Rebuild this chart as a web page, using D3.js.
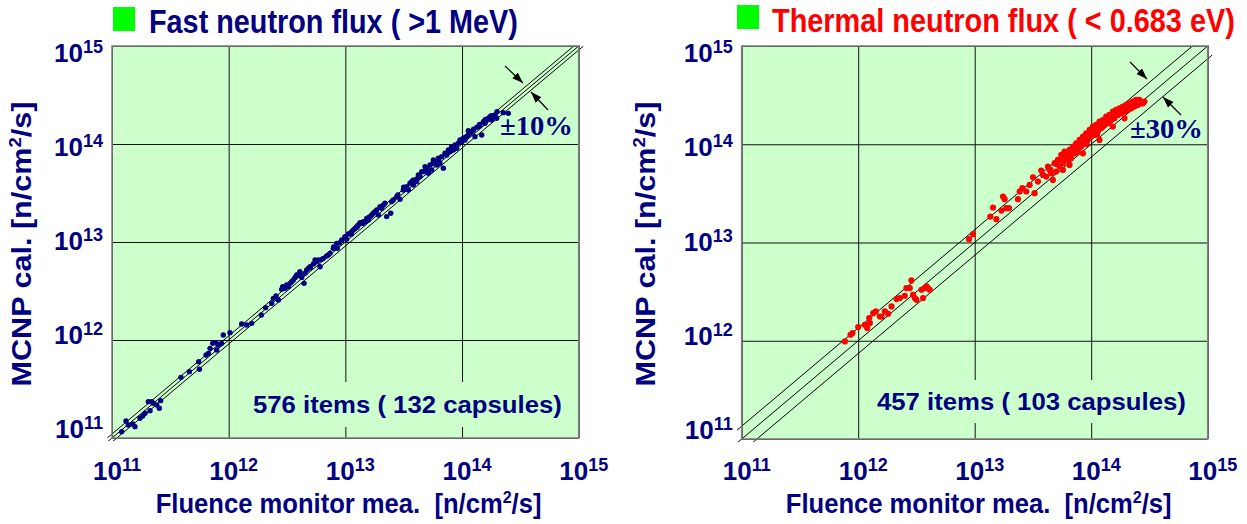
<!DOCTYPE html>
<html><head><meta charset="utf-8">
<script src="https://cdn.jsdelivr.net/npm/d3@7"></script>
<style>body{margin:0;background:#fff}svg{display:block}</style>
</head><body><svg id="c" width="1247" height="524"></svg>
<script>
// ---------------- data (log10 of flux, n/cm2/s) ----------------
const decades = [1e11, 1e12, 1e13, 1e14, 1e15];
const tickExponents = ["11", "12", "13", "14", "15"];
const titles = ["Fast neutron flux ( >1 MeV)", "Thermal neutron flux ( < 0.683 eV)"];
const countLabels = ["576 items ( 132 capsules)", "457 items ( 103 capsules)"];
const bandLabels = ["\u00b110%", "\u00b130%"];
const bandFactors = [1.1, 1.35];

const fastMeasuredLog10 = [11.083,11.12,11.14,11.177,11.197,11.24,11.263,11.283,11.311,11.326,11.354,11.383,11.406,11.417,11.34,
11.591,11.663,11.743,11.749,11.806,11.826,11.84,11.863,11.891,11.911,11.94,11.954,12.011,11.897,
12.111,12.154,12.197,12.28,12.317,12.369,12.383,12.406,12.426,12.454,12.483,12.511,12.526,12.554,12.583,12.606,12.626,12.646,
12.669,12.697,12.726,12.754,12.769,12.783,12.811,12.84,12.869,12.897,12.926,12.931,12.969,12.997,13.026,13.054,13.083,13.111,
13.14,13.169,13.197,13.211,13.24,13.269,13.283,13.297,13.326,13.354,13.389,13.411,13.44,13.469,13.497,13.526,13.554,13.583,
13.611,13.64,13.669,13.683,13.711,13.74,13.754,13.783,13.811,13.84,13.869,13.897,13.926,13.954,13.969,13.997,14.026,14.04,
14.069,14.097,14.111,14.126,14.154,14.183,14.211,14.24,14.269,14.297,14.354,14.397,14.169,14.054,
12.463,12.497,12.54,12.569,12.611,12.654,12.683,12.74,12.797,12.854,13.011,13.04,13.069,13.097,13.126,13.154,13.183,13.226,
13.254,13.311,13.34,13.397,13.511,13.54,13.569,13.597,13.626,13.654,13.697,13.726,13.769,13.797,13.826,13.854,13.883,13.911,
13.94,13.983,14.011,14.054,14.083,14.14,14.197,14.226,14.254,14.283,
13.45,13.5,13.58,13.62,13.7,13.75,13.8,13.86,13.92,13.98,14.03,14.1,14.15,14.2,14.25,14.3,12.9,12.95,13.0,13.05,13.1,13.15,13.2,12.6,12.7];
const fastCalculatedLog10 = [11.065,11.173,11.133,11.143,11.116,11.201,11.224,11.252,11.371,11.279,11.354,11.337,11.303,11.381,11.371,
11.619,11.677,11.779,11.701,11.847,11.864,11.915,11.966,11.973,11.949,11.966,12.051,12.075,11.898,
12.163,12.153,12.17,12.255,12.33,12.374,12.425,12.449,12.408,12.517,12.527,12.544,12.578,12.612,12.663,12.68,12.639,12.578,
12.714,12.748,12.776,12.799,12.816,12.748,12.833,12.857,12.884,12.935,12.986,12.935,13.02,13.054,13.082,13.105,13.139,13.173,
13.19,13.207,13.224,13.259,13.293,13.327,13.276,13.361,13.378,13.259,13.293,13.429,13.463,13.435,13.531,13.565,13.599,13.582,
13.616,13.667,13.718,13.769,13.701,13.735,13.837,13.786,13.803,13.752,13.888,13.922,13.939,13.956,14.007,14.024,14.041,14.075,
14.109,14.143,14.075,14.17,14.194,14.228,14.245,14.279,14.286,14.262,14.32,14.313,14.092,14.136,
12.544,12.561,12.595,12.639,12.697,12.68,12.731,12.816,12.823,12.867,13.027,13.088,13.122,13.156,13.197,13.207,13.241,13.276,
13.31,13.344,13.395,13.412,13.548,13.531,13.616,13.633,13.684,13.718,13.752,13.786,13.82,13.854,13.871,13.905,13.939,13.973,
13.99,14.041,14.058,14.092,14.126,14.177,14.211,14.262,14.245,14.296,
13.48,13.56,13.63,13.65,13.74,13.8,13.84,13.9,13.95,14.02,14.07,14.15,14.2,14.25,14.29,14.33,12.95,12.99,13.05,13.08,13.15,13.19,13.25,12.66,12.74];

const thermalMeasuredLog10 = [11.886,11.934,11.951,12.0,12.057,12.077,12.094,12.1,12.129,12.151,12.186,12.2,12.229,12.257,12.286,
12.329,12.357,12.4,12.414,12.443,12.457,12.471,12.486,12.5,12.543,12.557,12.571,12.586,12.6,12.614,
12.951,12.986,13.134,13.157,13.186,13.229,13.243,13.257,13.271,13.294,
13.371,13.386,13.409,13.443,13.471,13.5,13.514,13.543,13.571,13.586,13.614,13.629,13.643,13.657,13.671,13.686,13.7,13.714,
13.729,13.743,13.757,13.771,13.786,13.8,13.814,13.829,13.843,13.857,13.871,13.886,13.9,13.914,13.929,13.943,13.957,13.971,
13.986,14.0,14.014,14.029,14.043,14.057,14.071,14.086,14.1,14.114,14.129,14.143,14.157,14.171,14.186,14.2,14.214,14.229,
14.243,14.257,14.271,14.286,14.3,14.314,14.329,14.343,14.357,14.371,14.386,14.4,14.414,14.443,14.457,
13.757,13.814,13.929,14.071,14.186,14.286,
14.014,14.043,14.1,14.157,14.214,14.271,13.9,13.871,13.957,14.129,14.329,14.371,14.429,13.786,13.729,
13.65,13.7,13.75,13.8,13.85,13.9,13.95,14.0,14.05,13.82,13.88,13.96,14.02,14.08,14.12,14.18,14.22,14.26,14.3,14.35];
const thermalCalculatedLog10 = [11.993,12.061,12.078,12.139,12.163,12.129,12.231,12.18,12.281,12.298,12.247,12.247,12.298,12.275,12.349,
12.424,12.434,12.458,12.536,12.536,12.614,12.468,12.434,12.417,12.519,12.434,12.536,12.553,12.536,12.519,
13.034,13.085,13.264,13.356,13.237,13.325,13.468,13.441,13.349,13.349,
13.441,13.519,13.553,13.519,13.586,13.664,13.502,13.62,13.732,13.688,13.671,13.773,13.739,13.705,13.637,13.807,13.722,13.841,
13.773,13.892,13.807,13.925,13.841,13.892,13.942,13.858,13.976,13.908,14.01,13.942,14.044,13.976,14.078,14.01,14.112,14.044,
14.146,14.078,14.18,14.095,14.197,14.129,14.231,14.163,14.247,14.197,14.281,14.214,14.298,14.247,14.332,14.264,14.349,14.298,
14.366,14.315,14.383,14.332,14.4,14.349,14.417,14.366,14.434,14.383,14.451,14.4,14.451,14.417,14.434,
13.739,13.79,13.908,14.044,14.18,14.264,
14.112,14.146,14.18,14.231,14.298,14.332,13.976,13.959,14.044,14.214,14.366,14.434,14.417,13.892,13.841,
13.74,13.8,13.86,13.84,13.95,14.02,14.06,14.12,14.1,13.9,13.92,14.0,14.16,14.2,14.22,14.28,14.3,14.36,14.38,14.42];

// ---------------- drawing ----------------
const svg = d3.select("#c");
const NAVY = "#000080";
const FONT = "Arial, 'Liberation Sans', Helvetica, sans-serif";
const SERIF = "'Times New Roman', 'Liberation Serif', serif";

const defs = svg.append("defs");
defs.append("marker").attr("id", "ah").attr("markerUnits", "userSpaceOnUse")
  .attr("viewBox", "0 0 11 8").attr("markerWidth", 11).attr("markerHeight", 8)
  .attr("refX", 11).attr("refY", 4).attr("orient", "auto")
  .append("path").attr("d", "M0,0 L11,4 L0,8 z").attr("fill", "#000");

// squeeze/stretch a text horizontally to a target width
function fit(sel, width, tx, ty, rot) {
  const w = sel.node().getComputedTextLength();
  sel.attr("transform", `translate(${tx},${ty})${rot ? " rotate(" + rot + ")" : ""} scale(${width / w},1)`);
}

const panels = [
  {x0: 112, x1: 578.7, y0: 438, y1: 46, meas: fastMeasuredLog10, calc: fastCalculatedLog10, dot: "#000080", r: 2.7,
   titleColor: NAVY, sq: [113, 7], titleX: 149, titleLen: 369, titleBase: 33,
   countX: 253, countBase: 413, countBox: [249, 382, 318, 45],
   bandX: 500, bandBase: 135,
   arrows: [[505, 66, 523, 83], [548, 110, 531, 92]],
   yTitleX: 31, xTitleX: 348.6},
  {x0: 741.7, x1: 1207.7, y0: 439, y1: 46, meas: thermalMeasuredLog10, calc: thermalCalculatedLog10, dot: "#ff0000", r: 3.1,
   titleColor: "#ff0000", sq: [737, 5], titleX: 772, titleLen: 463, titleBase: 32,
   countX: 877, countBase: 410, countBox: [872, 380, 318, 43],
   bandX: 1130, bandBase: 138,
   arrows: [[1130, 62, 1147, 79], [1181, 115, 1163, 97]],
   yTitleX: 655, xTitleX: 978.7}
];

panels.forEach((p, i) => {
  const g = svg.append("g");
  const x = d3.scaleLog().domain([1e11, 1e15]).range([p.x0, p.x1]);
  const y = d3.scaleLog().domain([1e11, 1e15]).range([p.y0, p.y1]);
  const W = p.x1 - p.x0, H = p.y0 - p.y1;

  g.append("rect").attr("x", p.x0).attr("y", p.y1).attr("width", W).attr("height", H).attr("fill", "#ccffcc");

  // grid via axes
  const gx = g.append("g").attr("transform", `translate(0,${p.y0})`)
    .call(d3.axisBottom(x).tickValues(decades).tickSize(-H).tickFormat(""));
  gx.select(".domain").remove();
  gx.selectAll("line").attr("stroke", "#111").attr("stroke-width", 1);
  const gy = g.append("g").attr("transform", `translate(${p.x0},0)`)
    .call(d3.axisLeft(y).tickValues(decades).tickSize(-W).tickFormat(""));
  gy.select(".domain").remove();
  gy.selectAll("line").attr("stroke", "#111").attr("stroke-width", 1);

  // count label background box
  g.append("rect").attr("x", p.countBox[0]).attr("y", p.countBox[1]).attr("width", p.countBox[2]).attr("height", p.countBox[3]).attr("fill", "#ccffcc");

  // diagonal band lines
  const cid = "clip" + i;
  defs.append("clipPath").attr("id", cid).append("rect")
    .attr("x", p.x0 - 5).attr("y", p.y1 - 0.5).attr("width", W + 10).attr("height", H + 3.5);
  const f = bandFactors[i];
  const lineGen = d3.line().x(d => x(d[0])).y(d => y(d[1]));
  const lo = Math.pow(10, 10.96), hi = Math.pow(10, 15.04);
  [f, 1, 1 / f].forEach(k => {
    g.append("path").attr("clip-path", `url(#${cid})`)
      .attr("d", lineGen([[lo, lo * k], [hi, hi * k]]))
      .attr("fill", "none").attr("stroke", "#000").attr("stroke-width", 1);
  });

  // points
  g.append("g").selectAll("circle").data(p.meas.map((m, j) => [Math.pow(10, m), Math.pow(10, p.calc[j])]))
    .join("circle").attr("cx", d => x(d[0])).attr("cy", d => y(d[1])).attr("r", p.r).attr("fill", p.dot);

  // border
  g.append("rect").attr("x", p.x0).attr("y", p.y1).attr("width", W).attr("height", H)
    .attr("fill", "none").attr("stroke", "#808080").attr("stroke-width", 1.6);

  // arrows
  p.arrows.forEach(a => {
    g.append("line").attr("x1", a[0]).attr("y1", a[1]).attr("x2", a[2]).attr("y2", a[3])
      .attr("stroke", "#000").attr("stroke-width", 1.2).attr("marker-end", "url(#ah)");
  });
  const bt = g.append("text").text(bandLabels[i])
    .attr("font-family", SERIF).attr("font-weight", "bold").attr("font-size", 28).attr("fill", NAVY);
  fit(bt, 73, p.bandX, p.bandBase);

  // count label
  const ct = g.append("text").text(countLabels[i])
    .attr("font-family", FONT).attr("font-weight", "bold").attr("font-size", 24.5).attr("fill", NAVY);
  fit(ct, 309, p.countX, p.countBase);

  // tick labels
  const labelY = d3.scaleLinear().domain([11, 15]).range([p.y0 + 0, p.y1 + 16]);
  const addPow = (sel, exp) => {
    sel.append("tspan").text("10");
    sel.append("tspan").text(exp).attr("font-size", 18).attr("dy", -9);
  };
  decades.forEach((d, k) => {
    const t = g.append("text").attr("x", x(d) + 5).attr("y", 480).attr("text-anchor", "middle")
      .attr("font-family", FONT).attr("font-weight", "bold").attr("font-size", 26).attr("fill", NAVY);
    addPow(t, tickExponents[k]);
    const ty = g.append("text").attr("x", p.x0 - 9).attr("y", labelY(11 + k)).attr("text-anchor", "end")
      .attr("font-family", FONT).attr("font-weight", "bold").attr("font-size", 26).attr("fill", NAVY);
    addPow(ty, tickExponents[k]);
  });

  // axis titles
  const unit = (sel, a) => {
    sel.append("tspan").text(a + "[n/cm");
    sel.append("tspan").text("2").attr("font-size", 17).attr("dy", -10);
    sel.append("tspan").text("/s]").attr("dy", 10);
  };
  const xt = g.append("text").attr("text-anchor", "middle")
    .attr("font-family", FONT).attr("font-weight", "bold").attr("font-size", 27).attr("fill", NAVY);
  unit(xt, "Fluence monitor mea.\u00a0\u00a0");
  fit(xt, 386, p.xTitleX, 513);
  const yt = g.append("text").attr("text-anchor", "middle")
    .attr("font-family", FONT).attr("font-weight", "bold").attr("font-size", 28).attr("fill", NAVY);
  unit(yt, "MCNP cal. ");
  fit(yt, 285, p.yTitleX, 244, -90);

  // title
  g.append("rect").attr("x", p.sq[0]).attr("y", p.sq[1]).attr("width", 22).attr("height", 24).attr("fill", "#00ff00");
  const tt = g.append("text").text(titles[i])
    .attr("font-family", FONT).attr("font-weight", "bold").attr("font-size", 33).attr("fill", p.titleColor);
  fit(tt, p.titleLen, p.titleX, p.titleBase);
});
</script></body></html>
